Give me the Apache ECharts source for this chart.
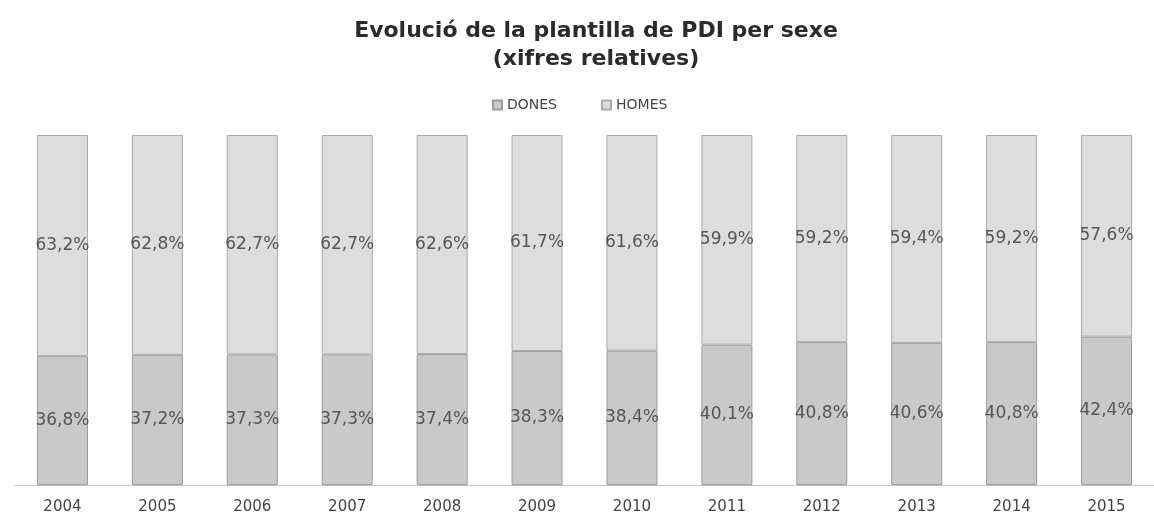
<!DOCTYPE html>
<html>
<head>
<meta charset="utf-8">
<script src="https://cdn.jsdelivr.net/npm/echarts@6/dist/echarts.min.js"></script>
<style>
  html, body { margin: 0; padding: 0; background: #fff; }
  #main { width: 1154px; height: 515px; }
</style>
</head>
<body>
<div id="main"></div>
<script>
// anys i percentatges llegits del gràfic
var anys = ['2004', '2005', '2006', '2007', '2008', '2009', '2010', '2011', '2012', '2013', '2014', '2015'];
var dones = [36.8, 37.2, 37.3, 37.3, 37.4, 38.3, 38.4, 40.1, 40.8, 40.6, 40.8, 42.4];
var homes = [63.2, 62.8, 62.7, 62.7, 62.6, 61.7, 61.6, 59.9, 59.2, 59.4, 59.2, 57.6];

var fontFam = '"DejaVu Sans", Verdana, sans-serif';

function pct(p) {
	return p.value.toFixed(1).replace('.', ',') + '%';
}

var myChart = echarts.init(document.getElementById('main'));
var option = {
	animation: false,
	backgroundColor: '#fff',
	title: {
		text: 'Evolució de la plantilla de PDI per sexe\n(xifres relatives)',
		left: 591,
		top: 12,
		textAlign: 'center',
		textStyle: {
			fontFamily: fontFam,
			fontSize: 22,
			fontWeight: 'bold',
			color: '#2b2b2b',
			lineHeight: 28
		}
	},
	legend: {
		data: ['DONES', 'HOMES'],
		left: 487,
		top: 93,
		itemWidth: 9,
		itemHeight: 9,
		itemGap: 44,
		icon: 'rect',
		textStyle: { fontFamily: fontFam, fontSize: 14, color: '#444' }
	},
	grid: { left: 15, right: -11, top: 135, bottom: 28 },
	xAxis: {
		type: 'category',
		data: anys,
		axisLine: { lineStyle: { color: '#c4c4c4', width: 1 } },
		axisTick: { show: false },
		axisLabel: { fontFamily: fontFam, fontSize: 15, color: '#444', margin: 15 }
	},
	yAxis: {
		type: 'value',
		min: 0,
		max: 100,
		show: false,
		splitLine: { show: false }
	},
	series: [
		{
			name: 'DONES',
			type: 'bar',
			stack: 'total',
			barWidth: 51,
			data: dones,
			itemStyle: { color: '#c9c9c9', borderColor: '#9c9c9c', borderWidth: 1 },
			label: {
				show: true,
				position: 'inside',
				formatter: pct,
				fontFamily: fontFam,
				fontSize: 17,
				color: '#555'
			}
		},
		{
			name: 'HOMES',
			type: 'bar',
			stack: 'total',
			barWidth: 51,
			data: homes,
			itemStyle: { color: '#dddddd', borderColor: '#aaaaaa', borderWidth: 1 },
			label: {
				show: true,
				position: 'inside',
				formatter: pct,
				fontFamily: fontFam,
				fontSize: 17,
				color: '#555'
			}
		}
	]
};
myChart.setOption(option);
</script>
</body>
</html>
